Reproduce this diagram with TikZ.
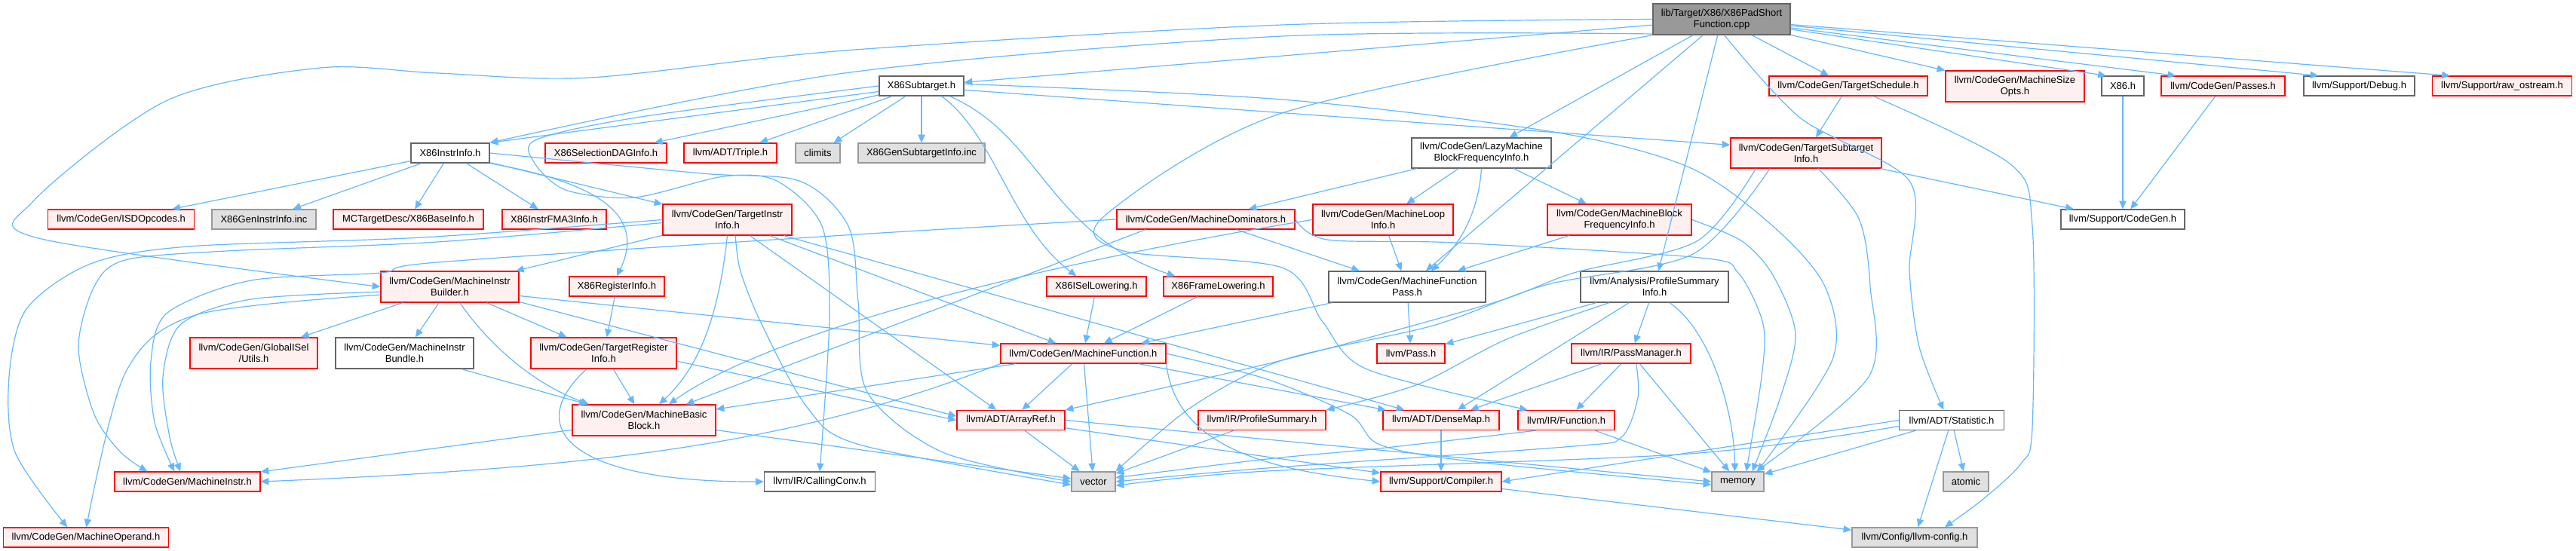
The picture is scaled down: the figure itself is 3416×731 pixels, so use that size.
\documentclass[tikz,border=0pt]{standalone}
\usepackage{fontspec}
\setmainfont{Liberation Sans}
\usepackage{xcolor}
\usepackage{tikz}
\usetikzlibrary{arrows.meta}
\definecolor{edgeblue}{HTML}{63B8FF}
\definecolor{trunced}{HTML}{FF0000}
\definecolor{truncfill}{HTML}{FFF0F0}
\definecolor{plainedge}{HTML}{666666}
\definecolor{sysfill}{HTML}{E0E0E0}
\definecolor{sysedge}{HTML}{999999}
\definecolor{rootfill}{HTML}{999999}
\newcommand{\depfont}{\fontsize{9.75}{11.25}\selectfont}

\begin{document}
\begin{tikzpicture}[
  x=0.75pt, y=-0.75pt,
  box/.style={rectangle, inner sep=0pt, align=center, font=\depfont, line width=1pt},
  plain/.style={box, draw=plainedge, fill=white},
  trunc/.style={box, draw=trunced, fill=truncfill},
  sys/.style={box, draw=sysedge, fill=sysfill},
  root/.style={box, draw=plainedge, fill=rootfill},
  wh/.style 2 args={minimum width=#1*0.75pt, minimum height=#2*0.75pt},
  arrow/.style={-{Triangle[length=8pt,width=7pt]}, draw=edgeblue, line width=0.9pt}
]
  \useasboundingbox (0,0) rectangle (3416,731);

  \node[root, wh={182}{41}] (main) at (2283,25.5) {lib/Target/X86/X86PadShort\\Function.cpp};

  \node[plain, wh={112}{26}] (subtgt) at (1222,114) {X86Subtarget.h};
  \node[trunc, wh={210}{26}] (sched) at (2451,114) {llvm/CodeGen/TargetSchedule.h};
  \node[trunc, wh={184}{41}] (sizeopts) at (2672,114.5) {llvm/CodeGen/MachineSize\\Opts.h};
  \node[plain, wh={56}{26}] (xh) at (2815,114) {X86.h};
  \node[trunc, wh={164}{26}] (passes) at (2948,114) {llvm/CodeGen/Passes.h};
  \node[plain, wh={147}{26}] (debug) at (3128.5,114) {llvm/Support/Debug.h};
  \node[trunc, wh={185}{26}] (rawos) at (3318,114) {llvm/Support/raw\_ostream.h};

  \node[plain, wh={104}{26}] (instrinfo) at (597,203) {X86InstrInfo.h};
  \node[trunc, wh={161}{26}] (seldag) at (803.5,203) {X86SelectionDAGInfo.h};
  \node[trunc, wh={123}{26}] (triple) at (968.5,203) {llvm/ADT/Triple.h};
  \node[sys, wh={59}{26}] (climits) at (1084.5,203) {climits};
  \node[sys, wh={168}{26}] (gensub) at (1222,203) {X86GenSubtargetInfo.inc};
  \node[plain, wh={185}{40}] (lazybfi) at (1964.5,203) {llvm/CodeGen/LazyMachine\\BlockFrequencyInfo.h};
  \node[trunc, wh={200}{40}] (tsi) at (2395,203) {llvm/CodeGen/TargetSubtarget\\Info.h};

  \node[trunc, wh={194}{26}] (isd) at (160.7,291) {llvm/CodeGen/ISDOpcodes.h};
  \node[sys, wh={138}{26}] (geninstr) at (350,291) {X86GenInstrInfo.inc};
  \node[trunc, wh={199}{26}] (baseinfo) at (541.5,291) {MCTargetDesc/X86BaseInfo.h};
  \node[trunc, wh={138}{26}] (fma3) at (735,291) {X86InstrFMA3Info.h};
  \node[trunc, wh={171}{41}] (tii) at (964.5,291.5) {llvm/CodeGen/TargetInstr\\Info.h};
  \node[trunc, wh={236}{26}] (mdom) at (1599,291) {llvm/CodeGen/MachineDominators.h};
  \node[trunc, wh={186}{41}] (mloop) at (1834,291.5) {llvm/CodeGen/MachineLoop\\Info.h};
  \node[trunc, wh={191}{41}] (mbfi) at (2147.5,291.5) {llvm/CodeGen/MachineBlock\\FrequencyInfo.h};
  \node[plain, wh={164}{26}] (cgen) at (2815,291) {llvm/Support/CodeGen.h};

  \node[trunc, wh={183}{41}] (mib) at (596.5,380.5) {llvm/CodeGen/MachineInstr\\Builder.h};
  \node[trunc, wh={126}{26}] (reginfo) at (818,380) {X86RegisterInfo.h};
  \node[trunc, wh={132}{26}] (isel) at (1454,380) {X86ISelLowering.h};
  \node[trunc, wh={145}{26}] (framelow) at (1615.5,380) {X86FrameLowering.h};
  \node[plain, wh={208}{41}] (mfp) at (1866,380.5) {llvm/CodeGen/MachineFunction\\Pass.h};
  \node[plain, wh={196}{41}] (psi) at (2194,380.5) {llvm/Analysis/ProfileSummary\\Info.h};

  \node[trunc, wh={169}{41}] (gisel) at (336.5,468.5) {llvm/CodeGen/GlobalISel\\/Utils.h};
  \node[plain, wh={183}{41}] (bundle) at (536.5,468.5) {llvm/CodeGen/MachineInstr\\Bundle.h};
  \node[trunc, wh={193}{41}] (tri) at (800.5,468.5) {llvm/CodeGen/TargetRegister\\Info.h};
  \node[trunc, wh={219}{26}] (mf) at (1436.5,469) {llvm/CodeGen/MachineFunction.h};
  \node[trunc, wh={90}{26}] (pass) at (1871,469) {llvm/Pass.h};
  \node[trunc, wh={158}{26}] (pm) at (2163,469) {llvm/IR/PassManager.h};

  \node[trunc, wh={190}{41}] (mbb) at (854,557.5) {llvm/CodeGen/MachineBasic\\Block.h};
  \node[trunc, wh={143}{26}] (aref) at (1340.5,557.5) {llvm/ADT/ArrayRef.h};
  \node[trunc, wh={169}{26}] (profsum) at (1673.5,557.5) {llvm/IR/ProfileSummary.h};
  \node[trunc, wh={154}{26}] (dmap) at (1911,557.5) {llvm/ADT/DenseMap.h};
  \node[trunc, wh={128}{26}] (func) at (2077,557.5) {llvm/IR/Function.h};
  \node[plain, wh={139}{26}] (stat) at (2588,557.5) {llvm/ADT/Statistic.h};

  \node[trunc, wh={193}{26}] (minstr) at (248.5,639) {llvm/CodeGen/MachineInstr.h};
  \node[plain, wh={147}{26}] (cconv) at (1087,639) {llvm/IR/CallingConv.h};
  \node[sys, wh={58}{26}] (vec) at (1450,639) {vector};
  \node[trunc, wh={160}{26}] (compiler) at (1911,639) {llvm/Support/Compiler.h};
  \node[sys, wh={69}{26}] (mem) at (2304.5,639) {memory};
  \node[sys, wh={60}{26}] (atomic) at (2607,639) {atomic};

  \node[trunc, wh={219}{26}] (moperand) at (114,713) {llvm/CodeGen/MachineOperand.h};
  \node[sys, wh={166}{26}] (cfg) at (2539,713) {llvm/Config/llvm-config.h};

  \draw[arrow] plot[smooth] coordinates {(main.west) (1700,33) (1120,67) (782,103) (580,97) (425,90) (222,133) (44,267) (55,317) (mib.west)};
  \draw[arrow] plot[smooth] coordinates {(main.192) (1700,48) (1120,97) (instrinfo.north east)};
  \draw[arrow] (main) -- (subtgt);
  \draw[arrow] plot[smooth] coordinates {(main.south west) (1700,150) (1464,287) (1490,333) (1700,355) (1754,427) (1813,490) ([xshift=10pt]func.north west)};
  \draw[arrow] (main) -- (lazybfi);
  \draw[arrow] (main) -- (mfp);
  \draw[arrow] (main) -- (psi);
  \draw[arrow] plot[smooth] coordinates {(main.-80) (2388,157) (2532,240) (2532,360) (2545,460) ([xshift=-8pt]stat.north)};
  \draw[arrow] (main) -- (sched);
  \draw[arrow] (main) -- (sizeopts);
  \draw[arrow] (main) -- ([xshift=5pt]xh.north west);
  \draw[arrow] (main) -- ([xshift=15pt]passes.north west);
  \draw[arrow] (main) -- ([xshift=15pt]debug.north west);
  \draw[arrow] (main) -- ([xshift=18pt]rawos.north west);

  \draw[arrow] (subtgt) -- (instrinfo.north east);
  \draw[arrow] (subtgt) -- (seldag);
  \draw[arrow] (subtgt) -- (triple);
  \draw[arrow] (subtgt) -- (climits);
  \draw[arrow] (subtgt) -- (gensub);
  \draw[arrow] ([xshift=20pt]subtgt.south) .. controls (1320,180) and (1340,300) .. ([xshift=30pt]isel.north west);
  \draw[arrow] ([xshift=28pt]subtgt.south) .. controls (1380,180) and (1390,310) .. ([xshift=12pt]framelow.north west);
  \draw[arrow] ([yshift=-4pt]subtgt.east) -- ([yshift=8pt]tsi.west);
  \draw[arrow] plot[smooth] coordinates {([yshift=2pt]subtgt.east) (1700,132) (2060,175) (2240,222) (2351,300) (2420,380) (2430,477) ([xshift=-7pt]mem.north east)};
  \draw[arrow] plot[smooth] coordinates {(subtgt.west) (850,155) (712,185) (708,215) (750,252) (841,262) (960,234) (1030,240) (1090,300) (1100,420) (cconv.north)};

  \draw[arrow] (instrinfo) -- (isd);
  \draw[arrow] (instrinfo) -- (geninstr);
  \draw[arrow] (instrinfo) -- (baseinfo);
  \draw[arrow] (instrinfo) -- (fma3);
  \draw[arrow] (instrinfo) -- (tii);
  \draw[arrow] (instrinfo.south east) .. controls (780,240) and (860,280) .. (reginfo.north);
  \draw[arrow] plot[smooth] coordinates {(instrinfo.east) (930,230) (1060,240) (1125,300) (1138,400) (1150,520) (1250,600) (vec.west)};

  \draw[arrow] (tii) -- (mib);
  \draw[arrow] (tii.south) .. controls (955,400) and (935,480) .. ([xshift=15pt]mbb.north);
  \draw[arrow] (tii) -- (aref);
  \draw[arrow] plot[smooth] coordinates {([xshift=8pt]tii.south) (982,360) (1010,430) (1070,540) (1140,590) ([yshift=-3pt]vec.west)};
  \draw[arrow] (tii) -- (mf);
  \draw[arrow] (tii) -- (dmap);
  \draw[arrow] plot[smooth] coordinates {(tii.west) (560,315) (250,327) (120,350) (35,410) (12,500) (20,600) ([xshift=64pt]moperand.north west)};
  \draw[arrow] plot[smooth] coordinates {([yshift=-3pt]tii.west) (580,321) (300,333) (166,345) (125,380) (104,460) (125,550) (160,600) ([xshift=33pt]minstr.north west)};

  \draw[arrow] plot[smooth] coordinates {([yshift=-5pt]mib.west) (333,397) (240,430) (216,500) (225,580) ([xshift=66pt]minstr.north west)};
  \draw[arrow] plot[smooth] coordinates {([yshift=-8pt]mib.west) (259,418) (166,495) ([xshift=83pt]moperand.north west)};
  \draw[arrow] (mib) -- (gisel);
  \draw[arrow] (mib) -- (bundle);
  \draw[arrow] (mib) -- (tri);
  \draw[arrow] ([xshift=10pt]mib.south) .. controls (650,460) and (710,510) .. ([xshift=17pt]mbb.north west);
  \draw[arrow] ([yshift=-9pt]mib.east) -- ([yshift=8pt]mf.west);
  \draw[arrow] ([yshift=-15pt]mib.east) -- ([yshift=4pt]aref.west);

  \draw[arrow] (bundle) -- (mbb);
  \draw[arrow] (tri) -- (mbb);
  \draw[arrow] ([xshift=-17pt]tri.south) .. controls (690,570) and (760,640) .. (cconv.west);
  \draw[arrow] ([yshift=-8pt]tri.east) -- (aref.west);

  \draw[arrow] (mf) -- (aref);
  \draw[arrow] (mf) -- (vec);
  \draw[arrow] (mf) -- (mbb);
  \draw[arrow] (mf.south west) .. controls (1050,590) and (800,620) .. (minstr.east);
  \draw[arrow] (mf) -- (dmap);
  \draw[arrow] (mf.south east) .. controls (1560,600) and (1700,625) .. (compiler.west);
  \draw[arrow] plot[smooth] coordinates {(mf.east) (1680,503) (1790,550) (1830,590) (1950,612) ([yshift=-3pt]mem.west)};

  \draw[arrow] (mbb) -- (minstr);
  \draw[arrow] (mbb) -- (vec);
  \draw[arrow] (aref) -- (vec);
  \draw[arrow] (aref) -- (compiler);
  \draw[arrow] (aref.east) -- (mem.west);

  \draw[arrow] plot[smooth] coordinates {([xshift=-50pt]tsi.south) (2250,320) (2087,362) (1976,403) (1700,478) (aref.north east)};
  \draw[arrow] plot[smooth] coordinates {([xshift=-36pt]tsi.south) (2245,337) (2050,378) (1900,432) (1700,478) (1580,540) (vec.north east)};
  \draw[arrow] plot[smooth] coordinates {([xshift=12pt]tsi.south) (2465,290) (2480,380) (2478,500) ([xshift=-8pt]mem.north east)};
  \draw[arrow] (tsi) -- (cgen);

  \draw[arrow] (lazybfi) -- (mdom);
  \draw[arrow] (lazybfi) -- (mloop);
  \draw[arrow] (lazybfi.south) .. controls (1960,290) and (1930,330) .. ([xshift=24pt]mfp.north);
  \draw[arrow] (lazybfi) -- (mbfi);

  \draw[arrow] (mloop) -- (mfp);
  \draw[arrow] (mloop.west) .. controls (1500,330) and (1050,420) .. ([xshift=-47pt]mbb.north east);

  \draw[arrow] ([xshift=-60pt]mdom.south) -- ([xshift=-30pt]mbb.north east);
  \draw[arrow] (mdom) -- (mfp);
  \draw[arrow] plot[smooth] coordinates {(mdom.west) (1120,312) (580,348) (505,362) (333,372) (222,415) (200,480) (205,560) ([xshift=60pt]minstr.north west)};
  \draw[arrow] plot[smooth] coordinates {(mdom.east) (1760,318) (1930,322) (2255,342) (2305,362) (2338,430) (2336,500) ([xshift=-18pt]mem.north east)};

  \draw[arrow] (mbfi) -- (mfp);
  \draw[arrow] plot[smooth] coordinates {(mbfi.east) (2310,320) (2351,365) (2381,443) (2360,530) ([xshift=-12pt]mem.north east)};

  \draw[arrow] (mfp) -- (pass);
  \draw[arrow] (mfp) -- ([xshift=-25pt]mf.north east);

  \draw[arrow] (psi) -- (pass);
  \draw[arrow] (psi) -- (dmap);
  \draw[arrow] (psi) -- (pm);
  \draw[arrow] plot[smooth] coordinates {([xshift=-45pt]psi.south) (1998,450) (1880,510) (profsum.north east)};
  \draw[arrow] ([xshift=15pt]psi.south) .. controls (2270,440) and (2300,550) .. ([xshift=-3pt]mem.north);

  \draw[arrow] (pm) -- (dmap);
  \draw[arrow] (pm) -- (func);
  \draw[arrow] (pm) -- (mem);
  \draw[arrow] plot[smooth] coordinates {([xshift=5pt]pm.south) (2172,527) (2150,580) (2087,592) (1680,621) (vec.east)};

  \draw[arrow] plot[smooth] coordinates {([xshift=-30pt]func.south) (1828,595) (1680,609) ([yshift=4pt]vec.east)};
  \draw[arrow] (func) -- (mem);

  \draw[arrow] (stat) -- (mem);
  \draw[arrow] (stat.west) -- (compiler.east);
  \draw[arrow] plot[smooth] coordinates {([yshift=-6pt]stat.west) (2240,602) (1680,625) ([yshift=-4pt]vec.east)};
  \draw[arrow] (stat) -- (atomic);
  \draw[arrow] (stat) -- (cfg);

  \draw[arrow] (compiler) -- (cfg);
  \draw[arrow] (dmap) -- (compiler);
  \draw[arrow] (profsum) -- (vec);

  \draw[arrow] (sched) -- (tsi);
  \draw[arrow] plot[smooth] coordinates {([xshift=25pt]sched.south) (2665,217) (2695,300) (2695,567) (2680,615) (2630,662) ([xshift=30pt]cfg.north)};
  \draw[arrow] (xh) -- (cgen);
  \draw[arrow] (passes) -- (cgen);

  \draw[arrow] (isel) -- (mf);
  \draw[arrow] (framelow) -- (mf);
  \draw[arrow] (reginfo) -- (tri);
\end{tikzpicture}
\end{document}
